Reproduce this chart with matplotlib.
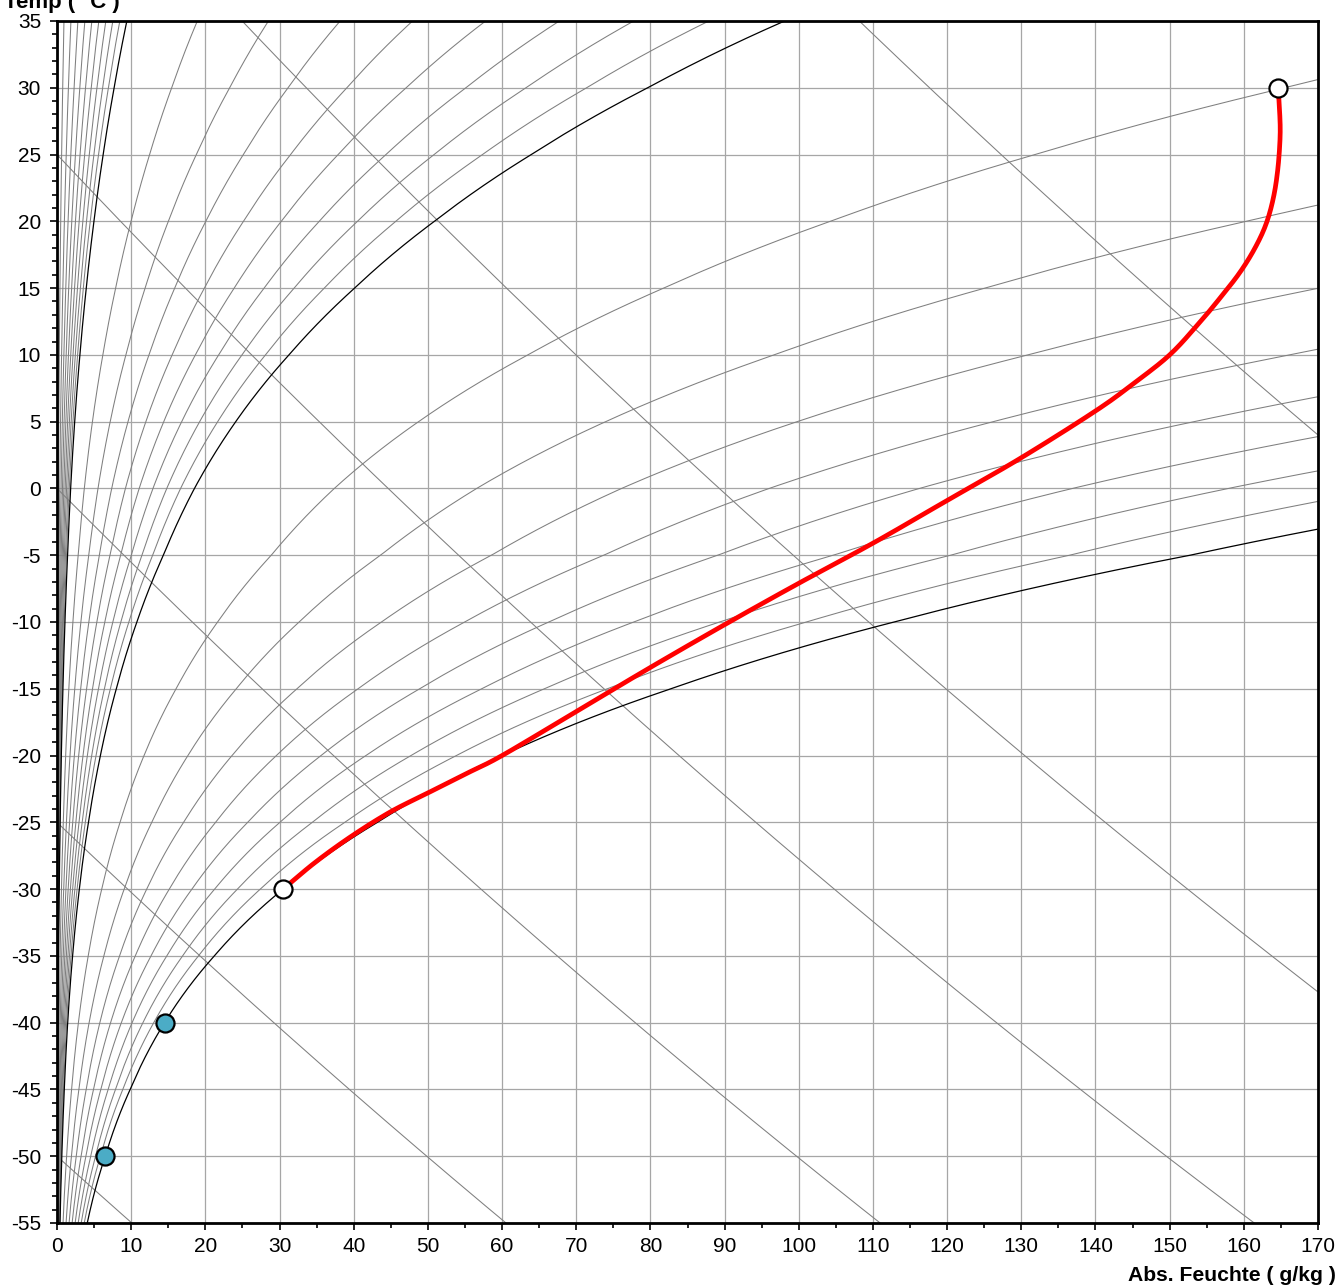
import numpy as np
import matplotlib
matplotlib.use("Agg")
import matplotlib.pyplot as plt
from matplotlib.ticker import MultipleLocator

plt.rcParams['font.family'] = ['Liberation Sans', 'DejaVu Sans']
plt.rcParams['axes.unicode_minus'] = False

# ---------------- data ----------------
# saturation partial-pressure ratio (ln) at these temperatures
temp_nodes = [-55, -50, -45, -40, -35, -30, -25, -20, -15, -10, -5, 0, 5, 10, 15, 20, 25, 30, 35]
ln_sat_ratio = [-6.254, -5.789, -5.374, -4.991, -4.6135, -4.255, -3.9125, -3.592, -3.2805,
                -2.984, -2.699, -2.445, -2.185, -1.9275, -1.6825, -1.45, -1.2275, -1.015, -0.815]
x_factor = 2118.0  # g/kg scale of the humidity curves

rh_gray = [0.001, 0.002, 0.003, 0.004, 0.005, 0.006, 0.007, 0.008, 0.009,
           0.02, 0.03, 0.04, 0.05, 0.06, 0.07, 0.08, 0.09,
           0.2, 0.3, 0.4, 0.5, 0.6, 0.7, 0.8, 0.9]
rh_black = [0.01, 0.1, 1.0]

# enthalpy lines  T = (h - a*x) / (1 + b*x)
enthalpy_levels = [-50, -25, 0, 25, 50, 100]
enth_a = 0.560
enth_b = 0.00117

# process line (red)
proc_x = [30.5, 34.8, 39.8, 45.0, 50.0, 55.0, 60.0, 70.0, 80.0, 90.0, 100.0, 110.0, 120.0,
          130.0, 140.0, 145.0, 150.0, 154.0, 157.0, 159.5, 161.5, 163.0, 164.0, 164.6, 164.9,
          164.8, 164.6]
proc_T = [-30.0, -28.0, -26.0, -24.2, -22.8, -21.4, -20.0, -16.7, -13.4, -10.2, -7.1, -4.1, -0.9,
          2.3, 5.8, 7.8, 10.0, 12.4, 14.4, 16.2, 18.0, 19.8, 21.8, 24.0, 26.5, 28.5, 30.0]

white_pts_x = [30.5, 164.6]
white_pts_T = [-30.0, 30.0]
blue_pts_x = [14.5, 6.5]
blue_pts_T = [-40.0, -50.0]

x_ticks = list(range(0, 171, 10))
y_ticks = list(range(-55, 36, 5))


def smooth_path(xs, ys, n=12):
    """Catmull-Rom rendering of a polyline through the given points."""
    p = np.column_stack([xs, ys]).astype(float)
    p = np.vstack([p[0], p, p[-1]])
    out = []
    t = np.linspace(0, 1, n, endpoint=False)[:, None]
    for i in range(1, len(p) - 2):
        p0, p1, p2, p3 = p[i - 1], p[i], p[i + 1], p[i + 2]
        seg = 0.5 * ((2 * p1) + (-p0 + p2) * t + (2 * p0 - 5 * p1 + 4 * p2 - p3) * t ** 2
                     + (-p0 + 3 * p1 - 3 * p2 + p3) * t ** 3)
        out.append(seg)
    out.append(p[-2][None, :])
    out = np.vstack(out)
    return out[:, 0], out[:, 1]


# ---------------- figure ----------------
W, H = 1341, 1286
fig = plt.figure(figsize=(W / 100, H / 100), dpi=100)
ax = fig.add_axes([57 / W, (H - 1223) / H, (1318 - 57) / W, (1223 - 21) / H])
ax.set_xlim(0, 170)
ax.set_ylim(-55, 35)

ax.set_xticks(x_ticks)
ax.set_yticks(y_ticks)
ax.xaxis.set_minor_locator(MultipleLocator(5))
ax.yaxis.set_minor_locator(MultipleLocator(1))
ax.grid(True, which='major', color='#a6a6a6', lw=0.9, zorder=0)
ax.set_axisbelow(True)

T_fine = np.linspace(-55, 35, 901)
sat_fine = np.exp(np.interp(T_fine, temp_nodes, ln_sat_ratio))

for phi in rh_gray:
    r = phi * sat_fine
    ax.plot(x_factor * r / (1 - r), T_fine, color='#7f7f7f', lw=0.75, zorder=2)
for phi in rh_black:
    r = phi * sat_fine
    ax.plot(x_factor * r / (1 - r), T_fine, color='black', lw=0.9, zorder=3)

x_fine = np.linspace(0, 170, 600)
for h in enthalpy_levels:
    ax.plot(x_fine, (h - enth_a * x_fine) / (1 + enth_b * x_fine), color='#7f7f7f', lw=0.75, zorder=2)

px, pT = smooth_path(proc_x, proc_T)
ax.plot(px, pT, color='#ff0000', lw=3.4, solid_capstyle='round', solid_joinstyle='round', zorder=4)
ax.plot(white_pts_x, white_pts_T, 'o', ms=13, mfc='white', mec='black', mew=1.6, zorder=5, clip_on=False)
ax.plot(blue_pts_x, blue_pts_T, 'o', ms=13, mfc='#4BACC6', mec='black', mew=1.6, zorder=5, clip_on=False)

for s in ax.spines.values():
    s.set_linewidth(2.0)
    s.set_zorder(6)
ax.tick_params(which='major', direction='out', length=5, width=1.2, labelsize=15, pad=6.5)
ax.tick_params(which='minor', direction='out', length=3.5, width=1.2)
ax.tick_params(axis='x', which='major', pad=5)

fig.text(1336 / W, 1 - 1281 / H, 'Abs. Feuchte ( g/kg )', ha='right', va='baseline',
         fontsize=15.2, fontweight='bold')
fig.text(4 / W, 1 - 8 / H, 'Temp ( °C )', ha='left', va='baseline',
         fontsize=16, fontweight='bold')

fig.savefig('out.png', dpi=100)
